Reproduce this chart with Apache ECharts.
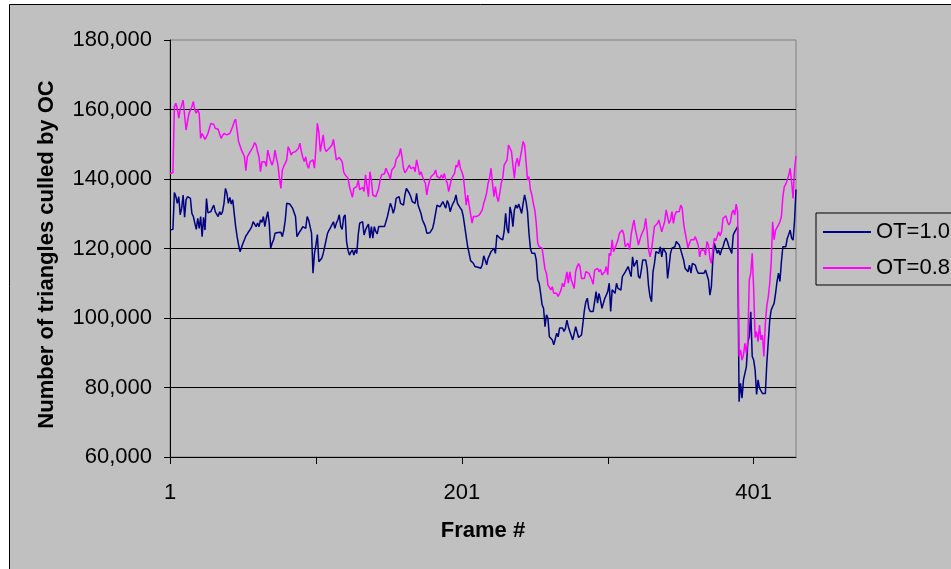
<!DOCTYPE html>
<html>
<head>
<meta charset="utf-8">
<title>Triangles culled by OC per frame</title>
<script src="https://cdn.jsdelivr.net/npm/echarts@6/dist/echarts.min.js"></script>
<style>
  html, body { margin: 0; padding: 0; background: #ffffff; }
  #chart { width: 951px; height: 569px; }
</style>
</head>
<body>
<div id="chart"></div>
<script>
// Triangles culled by occlusion culling, one value per frame (frames 1..430)
const seriesNames = ['OT=1.0', 'OT=0.8'];
const xTickLabels = ['1', '201', '401'];

const ot10 = [
  125300,125300,125500,136100,135000,133000,134900,129700,131600,135400,
  129000,134000,134900,134400,134400,130100,129200,127300,125500,128700,
  125800,129200,123400,129000,125300,134400,130300,130500,130600,131600,
  132500,130600,130100,129200,130600,129700,130600,133000,137300,135900,
  133000,134700,132800,134000,133500,126300,123400,121000,119100,119400,
  121500,122500,123600,124200,124900,125500,126300,127700,127300,126300,
  127300,126300,128200,127500,129200,126300,128700,130600,127300,120100,
  121500,122500,124400,123900,124600,124400,124700,123400,125300,128200,
  133000,132800,132800,132800,131600,131600,129200,123400,123400,124900,
  125500,126300,126800,125800,129200,128200,126300,124400,112900,118600,
  121000,124000,116200,116700,117200,118600,120500,122500,124400,125300,
  126000,126300,127700,125800,127300,128200,129700,126300,125500,129000,
  129700,122000,119500,118100,119000,119600,118100,119600,118600,124000,
  127300,127500,127700,123900,125300,126300,127000,123000,126300,123000,
  126300,124900,124200,126300,126300,126300,126300,126300,126300,129200,
  129200,133000,131900,130100,131600,134400,134400,134900,133000,133500,
  132500,135400,137300,136900,135900,134900,133500,133000,133000,135900,
  132500,132000,130100,128200,127300,126300,124400,124600,124500,124400,
  125800,127700,130100,132500,133000,132000,132000,133500,133500,131600,
  133800,132800,130600,132000,133000,133800,135400,133000,133500,131600,
  131000,129200,126300,123400,120500,118600,116500,116200,115700,114800,
  114300,114600,115000,114300,115300,117900,116700,115300,117200,118100,
  119100,119600,120100,118600,123900,123400,123000,122500,122500,124900,
  130100,125800,124400,132000,130100,126300,131100,132500,131600,132800,
  132500,130100,133000,135400,133500,130600,124400,120000,118600,119100,
  118600,116700,111000,110000,107100,103800,102800,97500,100900,99900,
  94600,94200,93700,92300,91800,95600,94600,97100,96600,97100,
  96100,97000,99400,97500,96100,95800,93700,95600,97500,97500,
  94400,94200,95100,98500,102300,104700,105700,102800,101900,102000,
  101900,104700,107600,104300,107100,105200,102800,102800,105700,106600,
  107600,110000,101900,108100,108500,107100,110000,108500,108300,108000,
  111900,111900,113300,112900,114800,113300,111900,117600,114800,114300,
  116700,112000,111400,113800,116700,116200,116700,114300,109000,106100,
  104700,113300,115700,119100,119600,118600,120500,117600,120100,119600,
  118600,111400,114800,118600,120100,119600,120500,122000,122000,121000,
  119600,119600,116700,114300,113800,113300,115200,112900,115700,115700,
  115200,113800,112900,113300,112900,112400,112900,113800,113800,111000,
  106600,109000,116700,121500,120100,118600,119600,118100,119600,120500,
  122000,123000,122000,120500,120100,118600,123900,124800,125300,126300,
  75900,81200,76900,82200,82200,86000,93200,94600,101800,88900,
  87900,85000,78000,82200,79800,79300,78300,77800,78300,87000,
  93200,99400,102300,103300,104200,107100,110500,112900,110500,116200,
  120500,120100,120500,122900,124000,125300,123000,122400,128000,137000
];

const ot08 = [
  141600,141600,141800,160800,161800,160300,157500,159900,160300,162700,
  163200,154100,153900,158900,159400,160800,162300,159900,158900,159900,
  158900,151700,153100,153100,151400,152200,153100,154600,156000,155800,
  155700,154600,154300,154300,154300,151700,152500,153100,153600,152700,
  153000,153100,153300,155100,156500,157200,157500,150800,150800,148300,
  148800,146500,142400,146400,146600,147900,148600,149300,150500,149800,
  147900,146400,142100,145000,144500,145000,143600,148300,147900,145000,
  144000,145500,148300,145900,144000,140200,137300,142600,143700,144500,
  145500,149300,148300,146900,147600,147200,147900,147400,148800,150300,
  148000,146200,145000,146400,144000,143100,145000,144500,145500,143100,
  149000,156000,153500,147900,147900,152700,149000,147900,147900,148800,
  149300,149800,151400,151700,145500,145000,146200,146200,145000,142100,
  141200,140700,140200,137800,137300,134700,137300,137300,137800,139700,
  136900,137300,137600,136400,141200,141600,134900,142100,139700,135400,
  134900,134900,135400,137300,139700,141200,140700,141500,143100,142100,
  141200,139900,142600,142600,143600,145700,146000,146900,148800,146400,
  143100,141800,142400,142500,144000,143000,142600,143400,142100,145500,
  143600,141200,142100,140700,139700,138800,135400,138000,139700,140700,
  141200,141500,142600,140700,141200,140200,141200,140200,141600,139700,
  138800,136400,138300,140200,140200,141600,144000,143400,145500,143100,
  142100,140700,136900,132500,135400,132500,132000,127300,129200,129700,
  129200,129200,129700,130100,131100,133000,134400,136000,138800,140200,
  143100,138800,134900,137800,134900,133500,135900,138800,140200,144000,
  144500,145500,149800,149300,147900,147400,140200,144500,146000,143600,
  146000,148300,150800,149800,145000,139700,140700,136900,135400,133000,
  131100,127300,121500,120500,120500,120100,117000,114000,112900,109500,
  109000,108100,109000,107100,106600,107100,106200,107100,108100,110000,
  109000,111000,113300,110000,113300,111000,111400,108500,113300,114800,
  115700,114800,111400,111000,111400,113300,113800,112900,113300,111000,
  109700,113800,113300,114300,113300,114000,112400,111900,113300,114800,
  112400,118600,118000,122500,119100,120100,119600,122500,124400,124800,
  125300,124000,120500,121000,121500,119600,123900,126300,128200,125300,
  123400,121000,122500,123900,123400,125800,128700,124800,119600,117600,
  119600,123000,126300,125800,127200,128200,128700,124800,126300,127700,
  131100,129200,127200,128200,130600,127200,129600,130600,131100,130600,
  132500,131600,127200,124600,122500,120100,121500,122500,122600,122500,
  123400,123900,121000,117600,119600,119600,119600,118100,122000,121000,
  117200,115700,119600,122900,122200,122500,124800,123600,124800,128700,
  128700,129400,127700,126800,127500,130100,131100,129600,132800,130600,
  88900,90800,87900,89400,92700,89800,93700,111000,112900,118600,
  108100,94400,96100,93200,98000,93700,95100,88900,98500,103500,
  106100,110000,116000,127700,122500,125300,125800,126800,127700,129200,
  134900,137800,138500,138800,141000,143100,139200,134400,142800,146600
];

// Frame numbers for the category axis
const frames = ot10.map((_, i) => String(i + 1));

const FONT = "'Liberation Sans', Arial, Helvetica, sans-serif";

const chart = echarts.init(document.getElementById('chart'), null, { renderer: 'canvas' });

const option = {
  animation: false,
  backgroundColor: '#C0C0C0',
  textStyle: { fontFamily: FONT, color: '#000' },
  graphic: [
    // white margin outside the chart frame
    { type: 'rect', silent: true, shape: { x: 0, y: 0, width: 9, height: 569 }, style: { fill: '#ffffff' } },
    { type: 'rect', silent: true, shape: { x: 0, y: 0, width: 951, height: 4 }, style: { fill: '#ffffff' } },
    // chart frame edges
    { type: 'line', silent: true, shape: { x1: 9.5, y1: 4.5, x2: 951, y2: 4.5 }, style: { stroke: '#000', lineWidth: 1 } },
    { type: 'line', silent: true, shape: { x1: 9.5, y1: 4.5, x2: 9.5, y2: 569 }, style: { stroke: '#000', lineWidth: 1 } }
  ],
  grid: {
    left: 170, right: 155, top: 40, bottom: 112,
    containLabel: false,
    show: true,
    backgroundColor: 'transparent',
    borderColor: '#808080',
    borderWidth: 1
  },
  legend: {
    orient: 'vertical',
    left: 816,
    top: 213,
    icon: 'rect',
    itemWidth: 48,
    itemHeight: 2,
    itemGap: 14,
    padding: [8, 10, 6, 7],
    backgroundColor: '#C0C0C0',
    borderColor: '#000',
    borderWidth: 1,
    borderRadius: 0,
    textStyle: { fontFamily: FONT, fontSize: 22, color: '#000' },
    data: seriesNames
  },
  xAxis: {
    type: 'category',
    data: frames,
    boundaryGap: false,
    axisLine: { show: true, lineStyle: { color: '#000', width: 1 } },
    axisTick: {
      show: true,
      length: 7,
      interval: (i) => i % 100 === 0,
      lineStyle: { color: '#000', width: 1 }
    },
    axisLabel: {
      interval: (i, v) => xTickLabels.indexOf(v) !== -1,
      margin: 25,
      fontFamily: FONT,
      fontSize: 22,
      color: '#000'
    },
    splitLine: { show: false },
    name: 'Frame #',
    nameLocation: 'middle',
    nameGap: 63,
    nameTextStyle: { fontFamily: FONT, fontSize: 22, fontWeight: 'bold', color: '#000' }
  },
  yAxis: {
    type: 'value',
    min: 60000,
    max: 180000,
    interval: 20000,
    axisLine: { show: true, lineStyle: { color: '#000', width: 1 } },
    axisTick: { show: true, length: 6, lineStyle: { color: '#000', width: 1 } },
    axisLabel: {
      margin: 18,
      fontFamily: FONT,
      fontSize: 22,
      color: '#000',
      formatter: (v) => v.toLocaleString('en-US')
    },
    splitLine: { show: true, showMaxLine: false, lineStyle: { color: '#000', width: 1 } },
    name: 'Number of triangles culled by OC',
    nameLocation: 'middle',
    nameGap: 112,
    nameTextStyle: {
      fontFamily: FONT, fontSize: 22, fontWeight: 'bold', color: '#000',
      padding: [0, 12, 0, 0]
    }
  },
  series: [
    {
      name: seriesNames[0],
      type: 'line',
      data: ot10,
      symbol: 'none',
      showSymbol: false,
      color: '#000080',
      lineStyle: { color: '#000080', width: 1.5 },
      emphasis: { disabled: true }
    },
    {
      name: seriesNames[1],
      type: 'line',
      data: ot08,
      symbol: 'none',
      showSymbol: false,
      color: '#FF00FF',
      lineStyle: { color: '#FF00FF', width: 1.5 },
      emphasis: { disabled: true }
    }
  ]
};

chart.setOption(option);
</script>
</body>
</html>
